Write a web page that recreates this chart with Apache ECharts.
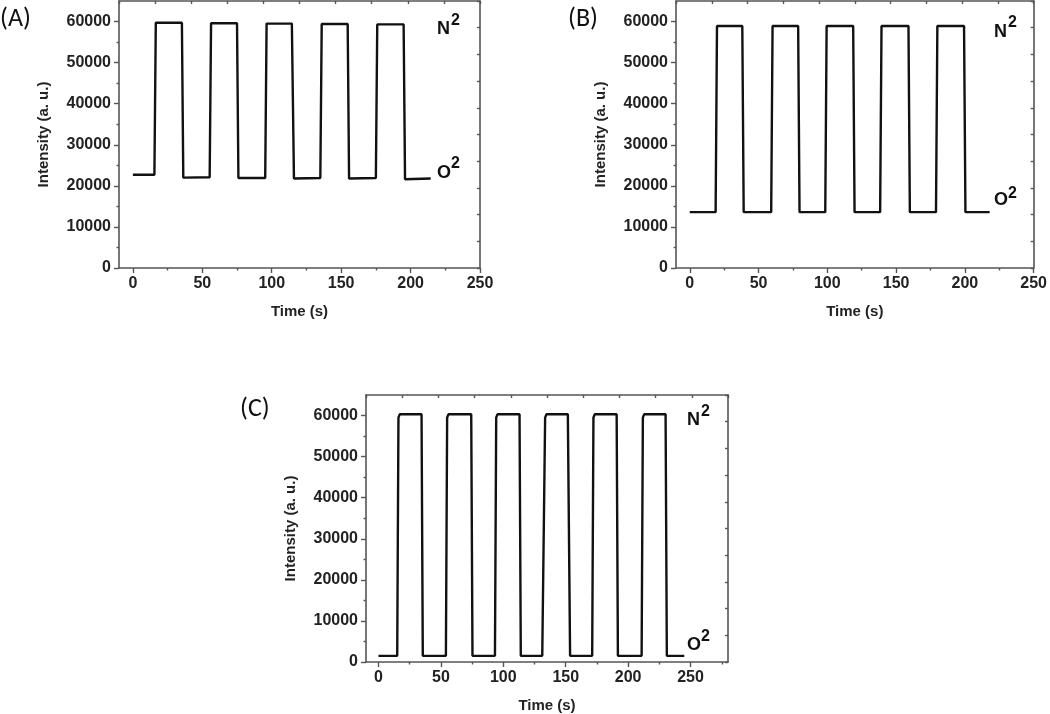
<!DOCTYPE html>
<html>
<head>
<meta charset="utf-8">
<script src="https://cdn.jsdelivr.net/npm/echarts@6/dist/echarts.min.js"></script>
<style>
html,body{margin:0;padding:0;background:#fff;}
#chart{width:1050px;height:714px;}
</style>
</head>
<body>
<div id="chart"></div>
<script>
// ---- data (time in s, intensity in a.u.) ----
const panelA = [
  [0,22700],[15.5,22700],[16.5,59700],[35.3,59700],[36.3,22000],[55.3,22100],[56.3,59600],
  [75,59600],[76,21900],[95.3,21900],[96.3,59500],[114.5,59500],[116,21800],[135,21900],
  [136,59400],[154.7,59400],[155.7,21800],[175,21900],[176,59300],[195,59300],[196,21600],[214.5,21800]
];
const panelB = [
  [0,13600],[18.8,13600],[19.8,58900],[38.2,58900],[39.2,13600],[59.2,13600],[60.2,58900],
  [78.8,58900],[79.8,13600],[98.5,13600],[99.5,58900],[118.8,58900],[119.8,13600],[138.4,13600],
  [139.4,58900],[159,58900],[160,13600],[179,13600],[180,58900],[199.4,58900],[200.4,13600],[218,13600]
];
const panelC = [
  [0,1500],[15,1500],[16,59500],[17,60300],[34.5,60300],[35.5,1500],[54,1500],[55,59500],[56,60300],
  [74.3,60300],[75.3,1500],[93.3,1500],[94.3,59500],[95.3,60300],[113,60300],[114,1500],
  [131.2,1500],[133.5,59500],[134.5,60300],[151.7,60300],[153.5,1500],[171.2,1500],[172.2,59500],
  [173.2,60300],[190.8,60300],[191.8,1500],[210.8,1500],[211.8,59500],[212.8,60300],[230,60300],
  [231,1500],[245,1500]
];
const xTicksAB = [0,50,100,150,200,250];
const xMinorAB = [25,75,125,175,225];
const xTicksC = [0,50,100,150,200,250];
const xMinorC = [25,75,125,175,225,275];
const yTicks = [0,10000,20000,30000,40000,50000,60000];
const yMinor = [5000,15000,25000,35000,45000,55000];
const panelLabels = ['(A)','(B)','(C)'];
const xTitle = 'Time (s)';
const yTitle = 'Intensity (a. u.)';

// ---- layout ----
const panels = [
  {data: panelA, xmax: 250, xt: xTicksAB, xm: xMinorAB, grid:{left:119, top:1, width:361, height:267}},
  {data: panelB, xmax: 250, xt: xTicksAB, xm: xMinorAB, grid:{left:676, top:1, width:360, height:267}},
  {data: panelC, xmax: 280, xt: xTicksC, xm: xMinorC, grid:{left:366, top:395, width:362, height:268}}
];

const FF = "'Liberation Sans', Arial, sans-serif";
const AX = '#555';
const LBL = {fontFamily:FF, fontWeight:'bold', fontSize:16, color:'#222'};
const plain = v => String(v);
const grids = [], xAxes = [], yAxes = [], series = [];

panels.forEach((p, g) => {
  grids.push(Object.assign({containLabel:false}, p.grid));
  xAxes.push({gridIndex:g, type:'value', min:-10, max:p.xmax, position:'bottom',
    name:xTitle, nameLocation:'middle', nameGap:36,
    nameTextStyle:{fontFamily:FF, fontWeight:'bold', fontSize:15, color:'#222'},
    axisLine:{show:true, onZero:false, lineStyle:{color:AX, width:1.6}},
    axisTick:{show:true, inside:false, length:5, customValues:p.xt, lineStyle:{color:AX, width:1.4}},
    axisLabel:Object.assign({customValues:p.xt, margin:8, formatter:plain}, LBL),
    splitLine:{show:false}});
  xAxes.push({gridIndex:g, type:'value', min:-10, max:p.xmax, position:'bottom',
    axisLine:{show:false, onZero:false},
    axisTick:{show:true, inside:false, length:2.5, customValues:p.xm, lineStyle:{color:AX, width:1.4}},
    axisLabel:{show:false}, splitLine:{show:false}});
  xAxes.push({gridIndex:g, type:'value', min:0, max:10, interval:1, position:'top',
    axisLine:{show:true, onZero:false, lineStyle:{color:AX, width:1.6}},
    axisTick:{show:true, inside:true, length:3, lineStyle:{color:AX, width:1.4}},
    axisLabel:{show:false}, splitLine:{show:false}});
  yAxes.push({gridIndex:g, type:'value', min:0, max:65000, position:'left',
    name:yTitle, nameLocation:'middle', nameGap:68, nameRotate:90,
    nameTextStyle:{fontFamily:FF, fontWeight:'bold', fontSize:15, color:'#222'},
    axisLine:{show:true, onZero:false, lineStyle:{color:AX, width:1.6}},
    axisTick:{show:true, inside:false, length:5, customValues:yTicks, lineStyle:{color:AX, width:1.4}},
    axisLabel:Object.assign({customValues:yTicks, margin:8, formatter:plain}, LBL),
    splitLine:{show:false}});
  yAxes.push({gridIndex:g, type:'value', min:0, max:65000, position:'left',
    axisLine:{show:false, onZero:false},
    axisTick:{show:true, inside:false, length:2.5, customValues:yMinor, lineStyle:{color:AX, width:1.4}},
    axisLabel:{show:false}, splitLine:{show:false}});
  yAxes.push({gridIndex:g, type:'value', min:0, max:10, interval:1, position:'right',
    axisLine:{show:true, onZero:false, lineStyle:{color:AX, width:1.6}},
    axisTick:{show:true, inside:true, length:3, lineStyle:{color:AX, width:1.4}},
    axisLabel:{show:false}, splitLine:{show:false}});
  series.push({type:'line', xAxisIndex:3*g, yAxisIndex:3*g, data:p.data,
    showSymbol:false, symbol:'none', lineStyle:{color:'#111', width:2.4},
    animation:false, silent:true});
});

// ---- annotations ----
const gasFont = {fontFamily:FF, fontWeight:'bold', fill:'#111'};
function gas(letter, x, yc, y2) {
  return [
    {type:'text', left:x, top:yc-9, style:Object.assign({text:letter, fontSize:18}, gasFont)},
    {type:'text', left:x+14, top:y2-8, style:Object.assign({text:'2', fontSize:16}, gasFont)}
  ];
}
const PF = "Calibri, Carlito, 'Open Sans', sans-serif";
const graphic = [
  {type:'text', left:0, top:6, style:{text:panelLabels[0], fontFamily:PF, fontSize:26, fill:'#111'}},
  {type:'text', left:568, top:6, style:{text:panelLabels[1], fontFamily:PF, fontSize:26, fill:'#111'}},
  {type:'text', left:240, top:396, style:{text:panelLabels[2], fontFamily:PF, fontSize:26, fill:'#111'}}
].concat(
  gas('N', 437, 29, 21), gas('O', 437, 173, 164),
  gas('N', 994, 32, 23), gas('O', 994, 200, 194),
  gas('N', 687, 420, 412), gas('O', 687, 645, 637)
);

const chart = echarts.init(document.getElementById('chart'), null, {renderer:'canvas'});
chart.setOption({
  animation:false,
  backgroundColor:'#fff',
  grid:grids, xAxis:xAxes, yAxis:yAxes, series:series, graphic:graphic
});
</script>
</body>
</html>
